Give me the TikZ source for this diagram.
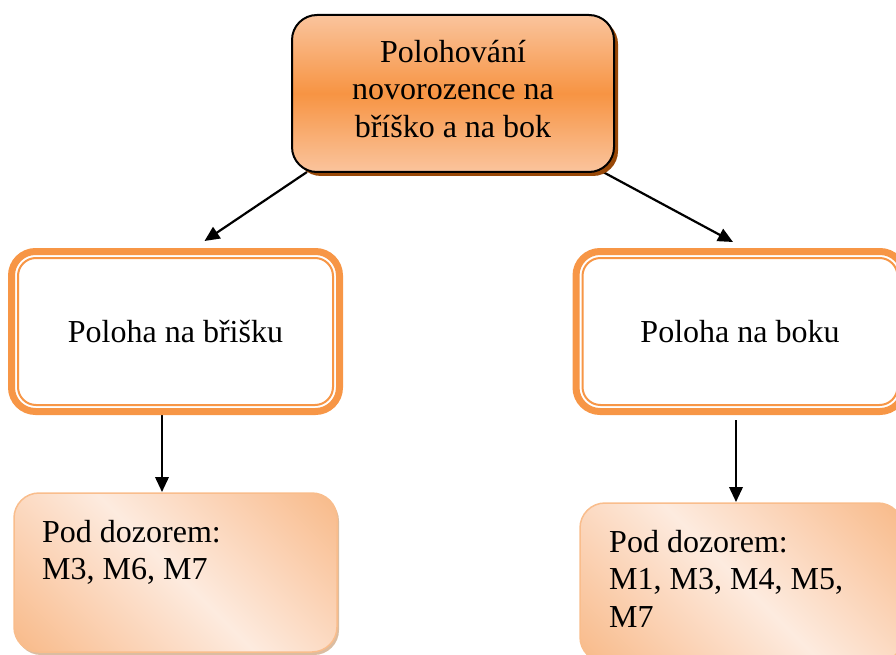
\documentclass[tikz,border=0pt]{standalone}
\usepackage{fontspec}
\setmainfont{Liberation Serif}
\usetikzlibrary{arrows.meta,shadows}

\definecolor{accent}{HTML}{F79646}
\definecolor{headlight}{HTML}{FAC49D}
\definecolor{headdark}{HTML}{F79443}
\definecolor{headshadow}{HTML}{984807}
\definecolor{peachdark}{HTML}{F8BA89}
\definecolor{peachmid}{HTML}{FBD3B6}
\definecolor{peachlight}{HTML}{FDEBDF}
\definecolor{peachedge}{HTML}{F9BD8C}
\definecolor{peachshadow}{HTML}{D2AC8A}

% diagonal peach fill: darker towards two opposite corners
\pgfdeclarehorizontalshading{peachshade}{100bp}{%
  color(0bp)=(peachdark); color(15bp)=(peachdark); color(33bp)=(peachmid);
  color(50bp)=(peachlight); color(67bp)=(peachmid); color(85bp)=(peachdark);
  color(100bp)=(peachdark)}

\pgfdeclarelayer{bg}
\pgfsetlayers{bg,main}

\tikzset{
  bigfont/.style={font={\fontsize{32}{37.5}\selectfont}},
  headbox/.style={draw=black, line width=2pt, rounded corners=25pt, outer sep=0pt,
    top color=headlight, bottom color=headlight, middle color=headdark,
    drop shadow={shadow xshift=4pt, shadow yshift=-4pt, fill=headshadow, opacity=1},
    minimum width=322pt, minimum height=157pt},
  midbox/.style={draw=accent, line width=7pt, rounded corners=24pt, outer sep=0pt,
    fill=white, minimum width=328pt, minimum height=160pt, bigfont},
  innerline/.style={draw=accent, line width=2pt, rounded corners=18pt},
  notebox/.style={draw=peachedge, line width=1.5pt, rounded corners=25pt, outer sep=0pt,
    shading=peachshade, shading angle=45,
    drop shadow={shadow xshift=2pt, shadow yshift=-3pt, fill=peachshadow, opacity=.8},
    minimum width=323pt, minimum height=159pt},
  plaintext/.style={bigfont, inner sep=0pt},
  arrow/.style={draw=black, line width=2.2pt, -{Triangle[length=15pt,width=13.5pt]}},
}

\begin{document}
\begin{tikzpicture}[x=1pt,y=-1pt]
\useasboundingbox (0,0) rectangle (896,655);
\clip (0,0) rectangle (896,655);

% boxes
\node[headbox] (head) at (453,93.5) {};
\node[plaintext, align=center] (headtxt) at (453,89) {Polohování\\novorozence na\\bříško a na bok};

\node[midbox] (belly) at (175.5,331.5) {Poloha na břišku};
\draw[innerline] ([xshift=6.5pt,yshift=-6.5pt]belly.north west) rectangle ([xshift=-6.5pt,yshift=6.5pt]belly.south east);

\node[midbox] (side) at (740,331.5) {Poloha na boku};
\draw[innerline] ([xshift=6.5pt,yshift=-6.5pt]side.north west) rectangle ([xshift=-6.5pt,yshift=6.5pt]side.south east);

\node[notebox] (bellynote) at (175.5,572.5) {};
\node[plaintext, align=left, anchor=north west] (bellytxt) at (42,520) {Pod dozorem:\\M3, M6, M7};

\node[notebox] (sidenote) at (741.5,582.5) {};
\node[plaintext, align=left, anchor=north west] (sidetxt) at (609,530) {Pod dozorem:\\M1, M3, M4, M5,\\M7};

% connectors
\begin{pgfonlayer}{bg}
\draw[arrow] ([xshift=15pt]head.south west) -- ([xshift=29pt,yshift=10.5pt]belly.north);
\draw[arrow] ([xshift=-11pt]head.south east) -- ([xshift=-7pt,yshift=9.5pt]side.north);
\draw[arrow] ([xshift=-13.5pt]belly.south) -- ([xshift=-13.5pt,yshift=1pt]bellynote.north);
\draw[arrow] ([xshift=-4pt,yshift=-8.5pt]side.south) -- ([xshift=-5.5pt,yshift=1pt]sidenote.north);
\end{pgfonlayer}
\end{tikzpicture}
\end{document}
